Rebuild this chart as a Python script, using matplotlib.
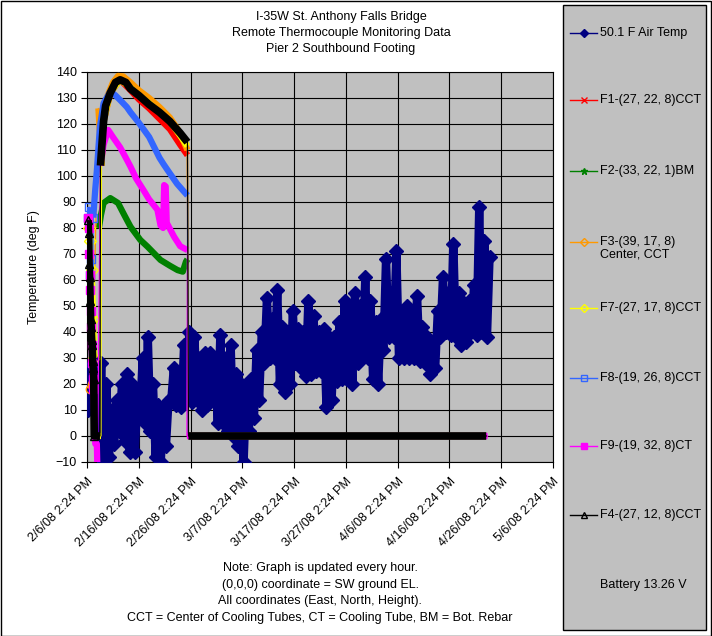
import numpy as np
import matplotlib
matplotlib.use("Agg")
import matplotlib.pyplot as plt
from matplotlib.lines import Line2D
from matplotlib.patches import Rectangle

plt.rcParams["font.family"] = ["Liberation Sans", "DejaVu Sans"]
plt.rcParams["font.size"] = 9

# x values are days after 2/6/08 2:24 PM
X_TICKS = [0, 10, 20, 30, 40, 50, 60, 70, 80, 90]
X_TICK_LABELS = ["2/6/08 2:24 PM", "2/16/08 2:24 PM", "2/26/08 2:24 PM",
                 "3/7/08 2:24 PM", "3/17/08 2:24 PM", "3/27/08 2:24 PM",
                 "4/6/08 2:24 PM", "4/16/08 2:24 PM", "4/26/08 2:24 PM",
                 "5/6/08 2:24 PM"]
Y_TICKS = list(range(-10, 150, 10))

# air temperature, daily low / high
AIR_DAY = list(range(78))
AIR_LO = [10, 12, 0, -10, -8, -3, 2, -2, -6, -6,
          8, 5, 2, -8, -10, -4, 13, 12, 11, 14,
          13, 14, 10, 12, 14, 5, 5, 2, 0, -4,
          -10, 2, 7, 14, 28, 30, 30, 20, 17, 20,
          28, 26, 23, 24, 25, 25, 11, 14, 21, 22,
          22, 20, 28, 33, 30, 22, 20, 33, 38, 38,
          30, 30, 30, 30, 29, 28, 24, 26, 38, 40,
          39, 38, 35, 36, 40, 39, 40, 38]
AIR_HI = [27, 28, 28, 20, 10, 14, 20, 24, 20, 16,
          30, 38, 20, 12, 11, 14, 26, 24, 35, 40,
          38, 30, 32, 32, 28, 39, 30, 35, 24, 20,
          18, 22, 33, 40, 53, 45, 56, 42, 40, 48,
          41, 40, 52, 46, 40, 41, 38, 38, 44, 52,
          48, 55, 50, 61, 52, 44, 45, 68, 55, 71,
          48, 50, 46, 54, 42, 38, 36, 48, 61, 55,
          74, 55, 51, 52, 58, 88, 75, 69]

F1_T = [2.8, 3.2, 4.5, 6.4, 8.4, 10, 12, 14, 16, 18, 19.4, 19.5, 77.1]
F1_V = [104, 121, 132, 137, 133, 129.5, 126, 122, 118, 112, 108, 0, 0]

F2_T = [2.3, 2.7, 3.2, 4.5, 6.0, 7.2, 8.4, 10.3, 11.7, 14.2, 16, 17.5,
        18.5, 19.1, 19.4, 19.5, 77.1]
F2_V = [80, 85, 89.6, 91.5, 89.6, 85, 80.5, 75.4, 72.8, 67.7, 65.5, 63.8,
        63.2, 67, 68, 0, 0]

F3_T = [0.5, 1.0, 2.2, 2.8, 3.2, 4.0, 5.0, 6.0, 7.0, 8.4, 10, 12, 14, 16,
        17.5, 18.5, 19.4, 19.5, 77.1]
F3_V = [18, 20, 126, 106, 123, 131, 136, 138.5, 138.3, 136, 133, 130,
        126.5, 122.5, 118, 114, 110, 0, 0]

F7_T = [0.3, 0.6, 0.9, 1.2, 1.4, 2.0, 2.7, 2.8, 3.2, 4.5, 6.4, 8.4, 10, 12,
        14, 16, 18, 19.4, 19.5, 77.1]
F7_V = [80, 75, 64, 45, 30, 0, 0, 104, 121, 132, 137, 134, 131, 128,
        124.5, 121, 115.5, 111.5, 0, 0]

F8_T = [0.2, 0.4, 0.6, 0.8, 1.0, 1.2, 1.6, 1.9, 2.5, 3.2, 4.5, 5.5, 6.5,
        7.7, 8.4, 10, 12, 14, 14.8, 16, 17.4, 18.5, 19.4, 19.5, 77.1]
F8_V = [84, 88, 62, 68, 28, 84, 95, 102, 119, 128, 132.5, 131, 129,
        126.5, 124.5, 120.5, 115, 107, 104.5, 101, 97, 94.5, 92.5, 0, 0]

F9_T = [0.2, 0.3, 0.4, 0.5, 0.6, 0.7, 0.8, 0.9, 1.0, 1.1, 1.2, 1.6, 1.9,
        2.0, 2.6, 3.2, 4.1, 5.0, 6.4, 7.5, 8.4, 9.5, 10.9, 12, 13.6, 14.2,
        14.7, 14.9, 15.2, 15.4, 16.8, 18, 19.4, 19.3, 77.35]
F9_V = [84, 80, 70, 62, 56, 48, 42, 35, 28, 22, 18, -3, -3,
        -12, 104, 112, 117.7, 115, 111, 107, 103.6, 99, 94.6, 91, 87, 81,
        80, 96.5, 96, 82, 76.7, 73, 71.5, 0, 0]

F4_T = [0.2, 0.3, 0.4, 0.5, 0.6, 0.7, 0.8, 0.9, 1.0, 1.1, 1.2, 1.3, 1.4,
        2.5, 2.6, 3.2, 3.6, 4.5, 5.5, 6.4, 7.5, 8.4, 10, 12, 14, 16, 18,
        19.4, 19.6, 77.1]
F4_V = [83, 78, 66, 61, 52, 45, 42, 37, 35, 29, 26, 22, 0,
        0, 104, 121, 127, 132, 136, 137, 136, 133.5, 131, 127.5, 124.5, 121,
        116.5, 113, 0, 0]

LEGEND_LABELS = ["50.1 F Air Temp", "F1-(27, 22, 8)CCT", "F2-(33, 22, 1)BM",
                 "F3-(39, 17, 8)\nCenter, CCT", "F7-(27, 17, 8)CCT",
                 "F8-(19, 26, 8)CCT", "F9-(19, 32, 8)CT", "F4-(27, 12, 8)CCT"]
BATTERY = "Battery 13.26 V"
TITLE = "I-35W St. Anthony Falls Bridge\nRemote Thermocouple Monitoring Data\nPier 2 Southbound Footing"
NOTES = ["Note: Graph is updated every hour.",
         "(0,0,0) coordinate = SW ground EL.",
         "All coordinates (East, North, Height).",
         "CCT = Center of Cooling Tubes, CT = Cooling Tube, BM = Bot. Rebar"]

W, H = 712, 636


def fx(px):
    return px / W


def fy(py):
    return 1 - py / H


def band(t, v, gap=25):
    # break the thick band where the reading jumps
    t = np.asarray(t, float)
    v = np.asarray(v, float)
    cut = np.where(np.abs(np.diff(v)) > gap)[0] + 1
    return np.insert(t, cut, np.nan), np.insert(v, cut, np.nan)


fig = plt.figure(figsize=(W / 100, H / 100), dpi=100)
ax = fig.add_axes([fx(87), fy(462), (553 - 87) / W, (462 - 72) / H])
ax.set_facecolor("#C0C0C0")

days = np.asarray(AIR_DAY, float)
air_t = np.column_stack([days + 0.25, days + 0.75]).ravel()
air_v = np.column_stack([AIR_LO, AIR_HI]).ravel()
ax.plot(air_t, air_v, color="#000080", lw=6, marker="D", ms=7,
        solid_joinstyle="round", solid_capstyle="round", zorder=3)

series = [
    (F1_T, F1_V, "#FF0000", 4.5, "x", "#FF0000"),
    (F2_T, F2_V, "#008000", 4.5, "*", "#008000"),
    (F3_T, F3_V, "#FF9900", 4.5, "o", "none"),
    (F7_T, F7_V, "#FFFF00", 4.5, "D", "none"),
    (F8_T, F8_V, "#3366FF", 4.5, "s", "none"),
    (F9_T, F9_V, "#FF00FF", 4.5, "s", "#FF00FF"),
    (F4_T, F4_V, "#000000", 5.5, "^", "none"),
]
for i, (t, v, c, lw, m, mfc) in enumerate(series):
    ax.plot(t, v, color=c, lw=0.9, zorder=4 + i)
    bt, bv = band(t, v)
    ax.plot(bt, bv, color=c, lw=lw, solid_capstyle="butt",
            solid_joinstyle="round", zorder=4 + i)
    # the first-day readings show as stacked markers
    early = np.asarray(t) < 1.5
    ax.plot(np.asarray(t)[early], np.asarray(v)[early], ls="none", marker=m,
            ms=6, mfc=mfc, mec=c, mew=1, zorder=4 + i, clip_on=False)

ax.set_xlim(0, 90)
ax.set_ylim(-10, 140)
ax.set_xticks(X_TICKS)
ax.set_xticklabels(X_TICK_LABELS, rotation=45, ha="right",
                   rotation_mode="anchor")
ax.set_yticks(Y_TICKS)
ax.grid(True, color="black", lw=0.8)
ax.set_axisbelow(True)
ax.tick_params(direction="out", length=4, width=0.8, colors="black")
ax.tick_params(axis="x", pad=6)
for s in ax.spines.values():
    s.set_linewidth(0.8)
ax.set_ylabel("Temperature (deg F)", labelpad=11)

fig.text(fx(341), fy(11), TITLE, ha="center", va="top", linespacing=1.45)
for k, line in enumerate(NOTES):
    fig.text(fx(320), fy(568 + k * 16.7), line, ha="center", va="center")

# outer frame and legend box
fig.add_artist(Rectangle((0.5 / W, 0.5 / H), 1 - 1.5 / W, 1 - 1.5 / H,
                         transform=fig.transFigure, fill=False,
                         edgecolor="black", lw=1))
fig.add_artist(Rectangle((fx(563), fy(630)), (706 - 563) / W, (630 - 5) / H,
                         transform=fig.transFigure, facecolor="#C0C0C0",
                         edgecolor="black", lw=1))

leg_y = [33, 100, 171, 242, 308, 378, 446, 515]
leg_style = [("#000080", "D", "#000080"), ("#FF0000", "x", "#FF0000"),
             ("#008000", "*", "#008000"), ("#FF9900", "D", "none"),
             ("#FFFF00", "D", "none"), ("#3366FF", "s", "none"),
             ("#FF00FF", "s", "#FF00FF"), ("#000000", "^", "none")]
for label, y, (c, m, mfc) in zip(LEGEND_LABELS, leg_y, leg_style):
    fig.add_artist(Line2D([fx(570), fx(597)], [fy(y), fy(y)],
                          transform=fig.transFigure, color=c, lw=1))
    fig.add_artist(Line2D([fx(583.5)], [fy(y)], transform=fig.transFigure,
                          color=c, marker=m, ms=4.5, mfc=mfc, mec=c))
    n = label.count("\n")
    fig.text(fx(600), fy(y + n * 6.5), label, ha="left", va="center",
             linespacing=1.1)
fig.text(fx(600), fy(585), BATTERY, ha="left", va="center")

fig.savefig("out.png", dpi=100)
